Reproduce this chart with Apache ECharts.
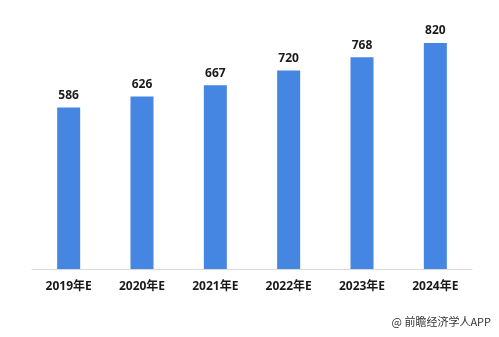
<!DOCTYPE html>
<html><head><meta charset="utf-8">
<script src="https://cdn.jsdelivr.net/npm/echarts@6/dist/echarts.min.js"></script>
<style>html,body{margin:0;padding:0;background:#fff}#c{width:499px;height:337px}</style>
</head><body><div id="c"></div>
<script>
const categories = ['2019年E','2020年E','2021年E','2022年E','2023年E','2024年E'];
const values = [586, 626, 667, 720, 768, 820];
const footer = '@ 前瞻经济学人APP';
const chart = echarts.init(document.getElementById('c'));
chart.setOption({
  animation: false,
  backgroundColor: '#fff',
  grid: {left: 32, right: 27, top: 21, bottom: 68},
  xAxis: {
    type: 'category', data: categories,
    axisLine: {lineStyle: {color: '#d9d9d9', width: 1}},
    axisTick: {show: false},
    axisLabel: {color: '#1a1a1a', fontWeight: 'bold', fontSize: 12, margin: 12, fontFamily: 'Open Sans, Noto Sans CJK SC, sans-serif'}
  },
  yAxis: {type: 'value', min: 0, max: 900, show: false, splitLine: {show: false}},
  series: [{
    type: 'bar', data: values, barWidth: 23,
    itemStyle: {color: '#4586e2'},
    label: {show: true, position: 'top', distance: 6, color: '#1a1a1a', fontWeight: 'bold', fontSize: 12, fontFamily: 'Open Sans, sans-serif'}
  }],
  graphic: [{
    type: 'text', right: 8, top: 316,
    style: {text: footer, fill: '#333', fontSize: 11, fontFamily: 'Noto Sans CJK SC, sans-serif'}
  }]
});
</script></body></html>
